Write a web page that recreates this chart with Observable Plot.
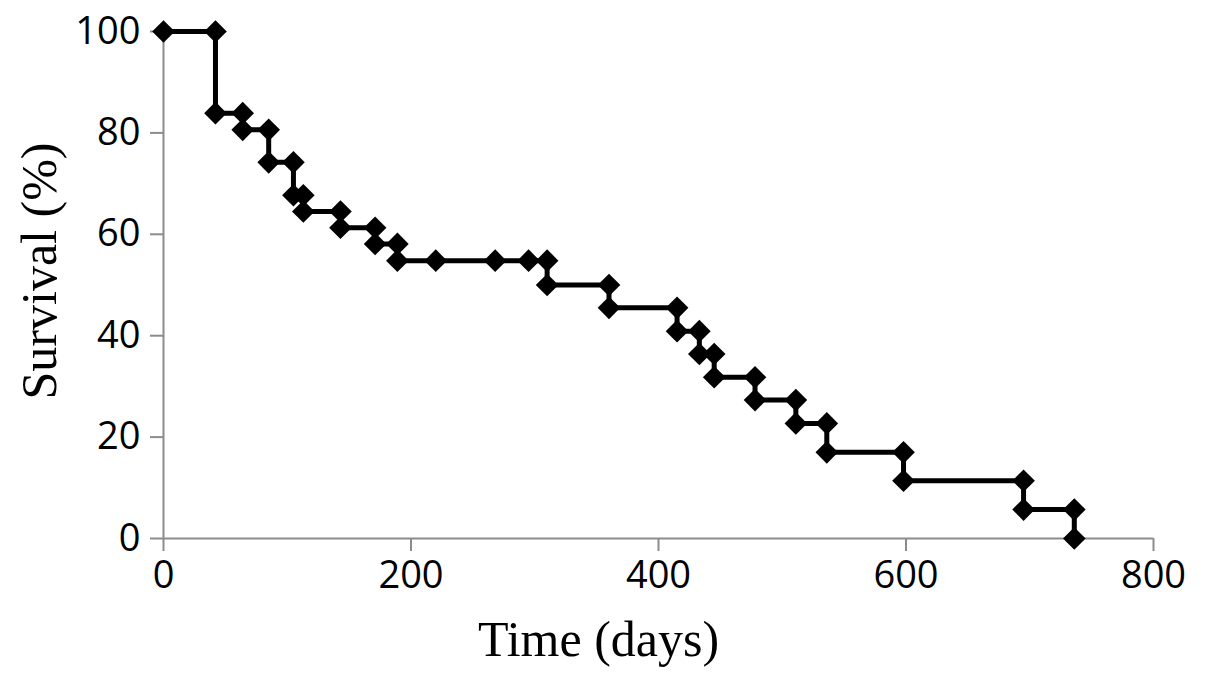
<!DOCTYPE html>
<html>
<head>
<meta charset="utf-8">
<script src="https://cdn.jsdelivr.net/npm/d3@7"></script>
<script src="https://cdn.jsdelivr.net/npm/@observablehq/plot@0.6"></script>
<style>
  html, body { margin: 0; padding: 0; background: #fff; }
</style>
</head>
<body>
<div id="chart"></div>
<script>
// Kaplan–Meier style survival curve: each event has a point before and after the drop
const days = [0, 42, 42, 64, 64, 85, 85, 105, 105, 113, 113, 143, 143, 171, 171, 189, 189,
  220, 268, 295, 310, 310, 360, 360, 415, 415, 433, 433, 445, 445, 478, 478,
  511, 511, 536, 536, 598, 598, 695, 695, 736, 736];
const survival = [100, 100, 83.9, 83.9, 80.6, 80.6, 74.2, 74.2, 67.7, 67.7, 64.5, 64.5, 61.3, 61.3, 58.1, 58.1, 54.8,
  54.8, 54.8, 54.8, 54.8, 50.0, 50.0, 45.5, 45.5, 40.9, 40.9, 36.4, 36.4, 31.8, 31.8, 27.3,
  27.3, 22.7, 22.7, 17.0, 17.0, 11.4, 11.4, 5.7, 5.7, 0];
const xTicks = [0, 200, 400, 600, 800];
const yTicks = [0, 20, 40, 60, 80, 100];
const xTitle = "Time (days)";
const yTitle = "Survival (%)";

const data = days.map((d, i) => ({day: d, surv: survival[i]}));
const axisGray = "#8c8c8c";

const chart = Plot.plot({
  width: 1205,
  height: 685,
  marginLeft: 163,
  marginRight: 52,
  marginTop: 31,
  marginBottom: 147,
  style: {fontFamily: "'Open Sans', sans-serif", fontSize: "38px", color: "black", background: "white"},
  x: {domain: [0, 800], ticks: xTicks},
  y: {domain: [0, 100], ticks: yTicks},
  marks: [
    Plot.axisX({ticks: xTicks, tickSize: 13, tickPadding: 10, stroke: axisGray, strokeWidth: 2, fill: "black", fontSize: 38, label: null, fontFamily: "'Open Sans', sans-serif"}),
    Plot.axisY({ticks: yTicks, tickSize: 13, tickPadding: 10, stroke: axisGray, strokeWidth: 2, fill: "black", fontSize: 38, label: null, fontFamily: "'Open Sans', sans-serif"}),
    Plot.ruleY([0], {stroke: axisGray, strokeWidth: 2}),
    Plot.ruleX([0], {stroke: axisGray, strokeWidth: 2}),
    Plot.line(data, {x: "day", y: "surv", stroke: "black", strokeWidth: 5, strokeLinejoin: "miter"}),
    Plot.dot(data, {x: "day", y: "surv", symbol: "diamond2", r: 10.2, fill: "black", stroke: "none"}),
    Plot.text([xTitle], {frameAnchor: "bottom", dx: -60, dy: 101, text: d => d, lineAnchor: "middle", textAnchor: "middle",
      fontFamily: "'Liberation Serif', 'Times New Roman', serif", fontSize: 50, fill: "black"}),
    Plot.text([yTitle], {frameAnchor: "left", dx: -124, dy: -14, rotate: -90, text: d => d, lineAnchor: "middle", textAnchor: "middle",
      fontFamily: "'Liberation Serif', 'Times New Roman', serif", fontSize: 50, fill: "black"})
  ]
});
document.getElementById("chart").appendChild(chart);
</script>
</body>
</html>
